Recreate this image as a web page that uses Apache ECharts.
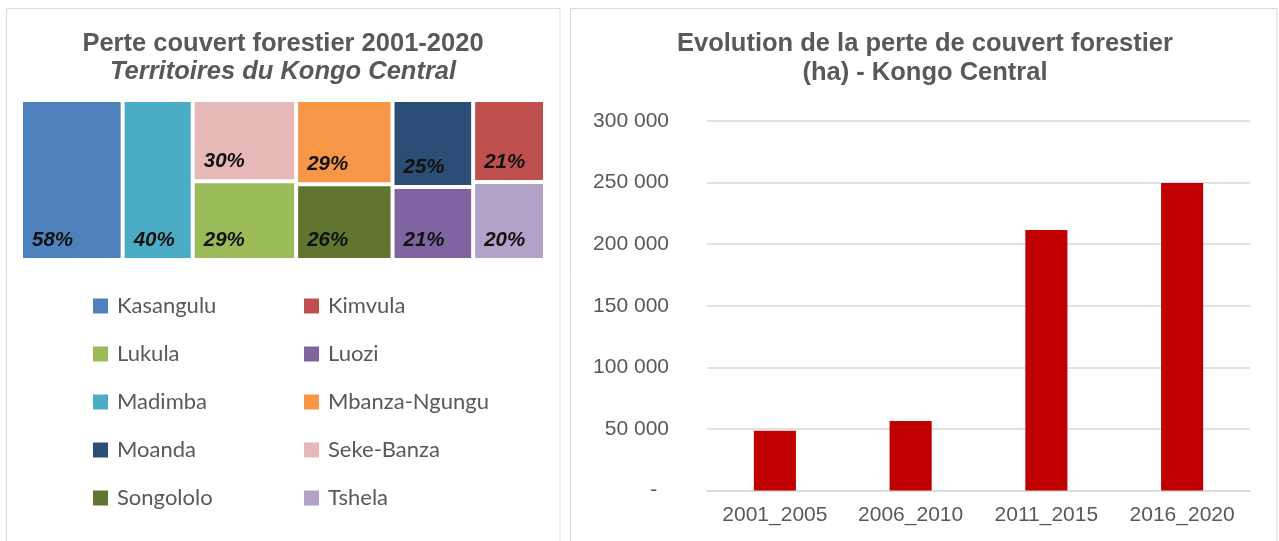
<!DOCTYPE html>
<html>
<head>
<meta charset="utf-8">
<script src="https://cdn.jsdelivr.net/npm/echarts@6/dist/echarts.min.js"></script>
<style>
  html, body { margin: 0; padding: 0; background: #fff; }
  #chart { width: 1279px; height: 541px; }
</style>
</head>
<body>
<div id="chart"></div>
<script>
// Territoires et part de couvert forestier perdue (2001-2020)
var territoires = ['Kasangulu', 'Madimba', 'Seke-Banza', 'Lukula', 'Mbanza-Ngungu', 'Songololo', 'Moanda', 'Luozi', 'Kimvula', 'Tshela'];
var pertePct = [58, 40, 30, 29, 29, 26, 25, 21, 21, 20];
var couleurs = ['#4F81BD', '#4BACC6', '#E6B9B8', '#9BBB59', '#F79646', '#5F7530', '#2C4D75', '#8064A2', '#C0504D', '#B3A2C7'];
// regroupement des cases (indices) pour garder la disposition en colonnes
var blocs = [[0, 1], [2, 3], [4, 5], [[6, 7], [8, 9]]];
var legendeGauche = ['Kasangulu', 'Lukula', 'Madimba', 'Moanda', 'Songololo'];
var legendeDroite = ['Kimvula', 'Luozi', 'Mbanza-Ngungu', 'Seke-Banza', 'Tshela'];

// Evolution de la perte (ha)
var periodes = ['2001_2005', '2006_2010', '2011_2015', '2016_2020'];
var perteHa = [48500, 56400, 211500, 249600];

var gris = '#595959';

function noeud(spec) {
    if (typeof spec === 'number') {
        return {
            name: territoires[spec],
            value: pertePct[spec],
            itemStyle: { color: couleurs[spec], borderWidth: 2, borderColor: '#fff' }
        };
    }
    return { name: 'g' + spec.join('-'), children: spec.map(noeud) };
}

function milliers(v) {
    if (v === 0) return '-  ';
    return String(v).replace(/\B(?=(\d{3})+(?!\d))/g, ' ');
}

// series vides, seulement pour afficher la legende du treemap
var seriesLegende = territoires.map(function (t, i) {
    return { name: t, type: 'scatter', data: [], itemStyle: { color: couleurs[i], opacity: 1 } };
});

var legendeCommune = {
    orient: 'vertical',
    top: 290,
    icon: 'rect',
    itemWidth: 15,
    itemHeight: 15,
    itemGap: 26,
    selectedMode: false,
    textStyle: { fontFamily: 'Lato', fontSize: 22, color: gris, padding: [0, 0, 0, 4] }
};

function legende(o) {
    var r = {};
    for (var k in legendeCommune) r[k] = legendeCommune[k];
    for (var k2 in o) r[k2] = o[k2];
    return r;
}

var myChart = echarts.init(document.getElementById('chart'));
myChart.setOption({
    animation: false,
    textStyle: { fontFamily: 'Liberation Sans, Arial, sans-serif' },
    graphic: [{
        type: 'rect', z: -1, silent: true,
        shape: { x: 6.5, y: 8.5, width: 553.5, height: 545 },
        style: { fill: 'none', stroke: '#d9d9d9', lineWidth: 1 }
    }, {
        type: 'rect', z: -1, silent: true,
        shape: { x: 570.5, y: 8.5, width: 706.5, height: 545 },
        style: { fill: 'none', stroke: '#d9d9d9', lineWidth: 1 }
    }],
    title: [{
        text: 'Perte couvert forestier 2001-2020',
        subtext: 'Territoires du Kongo Central',
        left: 283, top: 30, textAlign: 'center', padding: 0, itemGap: 0,
        textStyle: { fontSize: 25.5, fontWeight: 'bold', color: gris, lineHeight: 28 },
        subtextStyle: { fontSize: 25.5, fontWeight: 'bold', fontStyle: 'italic', color: gris, lineHeight: 28 }
    }, {
        text: 'Evolution de la perte de couvert forestier\n(ha) - Kongo Central',
        left: 925, top: 29.5, textAlign: 'center', padding: 0,
        textStyle: { fontSize: 25.5, fontWeight: 'bold', color: gris, lineHeight: 29 }
    }],
    legend: [
        legende({ left: 88, data: legendeGauche }),
        legende({ left: 299, data: legendeDroite })
    ],
    grid: { left: 707, right: 29, top: 121, bottom: 50.5 },
    xAxis: {
        type: 'category',
        data: periodes,
        axisLine: { lineStyle: { color: '#d9d9d9', width: 1.5 } },
        axisTick: { show: false },
        axisLabel: { interval: 0, margin: 14, fontSize: 21, color: gris }
    },
    yAxis: {
        type: 'value',
        min: 0, max: 300000, interval: 50000,
        axisLine: { show: false },
        axisTick: { show: false },
        splitLine: { lineStyle: { color: '#d9d9d9', width: 1.5 } },
        axisLabel: { margin: 38, fontSize: 21, color: gris, formatter: milliers }
    },
    series: [{
        type: 'treemap',
        left: 21, top: 100, width: 524, height: 160,
        roam: false,
        nodeClick: false,
        sort: false,
        squareRatio: 1.2,
        breadcrumb: { show: false },
        itemStyle: { borderWidth: 0, gapWidth: 0, borderColor: '#fff' },
        label: {
            show: true,
            position: 'insideBottomLeft',
            distance: 0,
            padding: [0, 0, 8, 9],
            color: '#111',
            fontSize: 20.5,
            fontWeight: 'bold',
            fontStyle: 'italic',
            formatter: function (p) { return p.value + '%'; }
        },
        data: blocs.map(noeud)
    }, {
        name: 'Perte (ha)',
        type: 'bar',
        barWidth: '31%',
        itemStyle: { color: '#C00000' },
        data: perteHa
    }].concat(seriesLegende)
});
</script>
</body>
</html>
